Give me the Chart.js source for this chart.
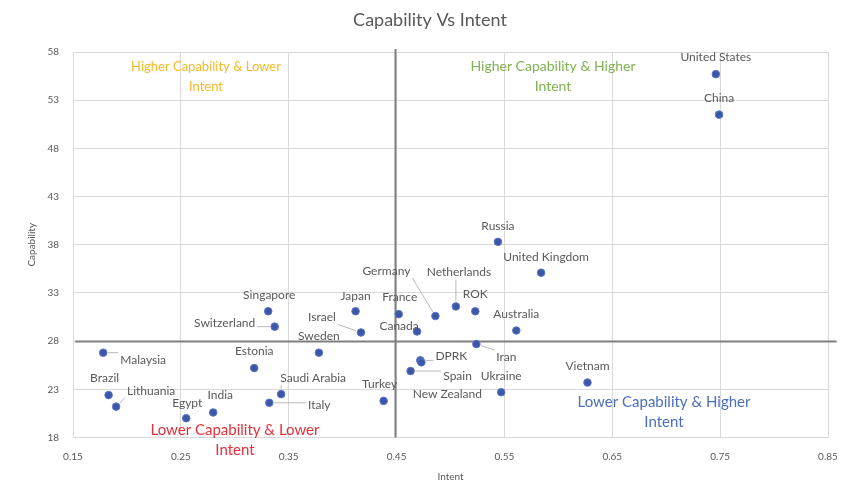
<!DOCTYPE html>
<html>
<head>
<meta charset="utf-8">
<script src="https://cdn.jsdelivr.net/npm/chart.js@4.4.1/dist/chart.umd.min.js"></script>
<style>
  html, body { margin: 0; padding: 0; background: #fff; }
  #wrap { width: 842px; height: 483px; }
</style>
</head>
<body>
<div id="wrap"><canvas id="capChart" width="842" height="483"></canvas></div>
<script>
// Data
const countries = ['United States', 'China', 'Russia', 'United Kingdom', 'Germany', 'Netherlands', 'ROK',
  'Australia', 'France', 'Japan', 'Israel', 'Canada', 'Sweden', 'Singapore', 'Switzerland', 'Iran',
  'DPRK', 'New Zealand', 'Spain', 'Ukraine', 'Vietnam', 'Turkey', 'Malaysia', 'Estonia',
  'Saudi Arabia', 'Italy', 'Brazil', 'Lithuania', 'Egypt', 'India'];
const intent = [0.746, 0.749, 0.544, 0.584, 0.486, 0.505, 0.523,
  0.561, 0.452, 0.412, 0.417, 0.469, 0.378, 0.331, 0.337, 0.524,
  0.472, 0.473, 0.463, 0.547, 0.627, 0.438, 0.178, 0.318,
  0.343, 0.332, 0.183, 0.190, 0.255, 0.280];
const capability = [55.7, 51.5, 38.3, 35.1, 30.6, 31.6, 31.1,
  29.1, 30.8, 31.1, 28.9, 29.0, 26.8, 31.1, 29.5, 27.7,
  26.0, 25.8, 24.9, 22.7, 23.7, 21.8, 26.8, 25.2,
  22.5, 21.6, 22.4, 21.2, 20.0, 20.6];

// Crossing lines (averages)
const avgIntent = 0.449;
const avgCapability = 27.95;

const xTicks = [0.15, 0.25, 0.35, 0.45, 0.55, 0.65, 0.75, 0.85];
const yTicks = [18, 23, 28, 33, 38, 43, 48, 53, 58];

const quadrantText = [
  ['Higher Capability & Lower', 'Intent'],
  ['Higher Capability & Higher', 'Intent'],
  ['Lower Capability & Higher', 'Intent'],
  ['Lower Capability & Lower', 'Intent']
];

// Layout of the labels (pixel offsets from each point), kept apart from the data
const labelDx = [0, 0, 0, 5, -49, 3, 0,
  0, 1, 0, -39, -18, 0, 1, -50, 30,
  31, 26, 47, 0, 0, -4, 40, 0,
  32, 50, -4, 35, 1, 7];
const labelDy = [-17, -17, -16, -16, -45, -34, -17,
  -16, -17, -15, -15, -5, -17, -16, -4, 13,
  -4, 32, 5, -16, -16, -17, 7, -17,
  -16, 2, -17, -16, -15, -17];
const leader = [0, 0, 0, 0, 1, 1, 0,
  0, 0, 0, 1, 0, 0, 0, 1, 1,
  1, 0, 1, 0, 0, 0, 1, 0,
  1, 1, 0, 1, 0, 0];
const quadrantPos = [[206, 67], [553, 66], [664, 402], [235, 430]];
const quadrantSize = [13, 14, 15, 15];
const quadrantColor = ['#F7B924', '#7FB24F', '#4A6FBF', '#E8303A'];

const FONT = 'Lato, "Noto Sans", sans-serif';

const labelPlugin = {
  id: 'pointLabels',
  afterDatasetsDraw(chart) {
    const ctx = chart.ctx;
    const meta = chart.getDatasetMeta(0);
    ctx.save();
    ctx.font = '12px ' + FONT;
    ctx.textAlign = 'center';
    ctx.textBaseline = 'middle';
    meta.data.forEach((pt, i) => {
      const lx = pt.x + labelDx[i];
      const ly = pt.y + labelDy[i];
      if (leader[i]) {
        const w = ctx.measureText(countries[i]).width / 2 + 2;
        const h = 7;
        const ex = Math.max(lx - w, Math.min(pt.x, lx + w));
        const ey = Math.max(ly - h, Math.min(pt.y, ly + h));
        const dx = ex - pt.x, dy = ey - pt.y;
        const d = Math.hypot(dx, dy) || 1;
        ctx.strokeStyle = '#a6a6a6';
        ctx.lineWidth = 0.8;
        ctx.beginPath();
        ctx.moveTo(pt.x + dx / d * 5, pt.y + dy / d * 5);
        ctx.lineTo(ex, ey);
        ctx.stroke();
      }
      ctx.fillStyle = '#595959';
      ctx.fillText(countries[i], lx, ly);
    });
    ctx.restore();
  }
};

const overlayPlugin = {
  id: 'overlayText',
  afterDraw(chart) {
    const ctx = chart.ctx;
    ctx.save();
    ctx.textAlign = 'center';
    ctx.textBaseline = 'middle';
    ctx.fillStyle = '#595959';
    ctx.font = '18px ' + FONT;
    ctx.fillText('Capability Vs Intent', 430, 20);
    quadrantText.forEach((lines, q) => {
      ctx.fillStyle = quadrantColor[q];
      ctx.font = quadrantSize[q] + 'px ' + FONT;
      lines.forEach((t, k) => ctx.fillText(t, quadrantPos[q][0], quadrantPos[q][1] + k * 20));
    });
    ctx.restore();
  }
};

const ctx = document.getElementById('capChart').getContext('2d');
new Chart(ctx, {
  type: 'scatter',
  data: {
    datasets: [
      {
        label: 'Countries',
        data: intent.map((x, i) => ({ x: x, y: capability[i] })),
        backgroundColor: '#3D57A8',
        borderColor: '#5B78C4',
        borderWidth: 1,
        pointRadius: 3.8
      },
      {
        type: 'line',
        label: 'avg intent',
        data: [{ x: avgIntent, y: 18 }, { x: avgIntent, y: 58.3 }],
        borderColor: '#7f7f7f',
        borderWidth: 2,
        pointRadius: 0,
        clip: false
      },
      {
        type: 'line',
        label: 'avg capability',
        data: [{ x: 0.152, y: avgCapability }, { x: 0.858, y: avgCapability }],
        borderColor: '#7f7f7f',
        borderWidth: 2,
        pointRadius: 0,
        clip: false
      }
    ]
  },
  options: {
    responsive: false,
    animation: false,
    layout: { padding: { left: 0, right: 14, top: 52, bottom: 0 } },
    plugins: {
      legend: { display: false },
      title: { display: false },
      tooltip: { enabled: false }
    },
    scales: {
      x: {
        type: 'linear',
        min: 0.15,
        max: 0.85,
        afterBuildTicks(scale) { scale.ticks = xTicks.map(v => ({ value: v })); },
        afterFit(scale) {
          scale.height = 45.5;
          scale.paddingLeft = 0;
          scale.paddingRight = 0;
        },
        grid: { color: '#d9d9d9', drawTicks: false },
        border: { color: '#d9d9d9' },
        ticks: {
          padding: 13,
          color: '#595959',
          font: { family: FONT, size: 10 },
          callback: v => Number(v).toFixed(2)
        },
        title: { display: true, text: 'Intent', color: '#595959', font: { family: FONT, size: 10 }, padding: 0 }
      },
      y: {
        type: 'linear',
        min: 18,
        max: 58,
        afterBuildTicks(scale) { scale.ticks = yTicks.map(v => ({ value: v })); },
        afterFit(scale) {
          scale.width = 73;
          scale.paddingTop = 0;
          scale.paddingBottom = 0;
        },
        grid: { color: '#d9d9d9', drawTicks: false },
        border: { color: '#d9d9d9' },
        ticks: {
          padding: 14,
          color: '#595959',
          font: { family: FONT, size: 10 }
        },
        title: { display: true, text: 'Capability', color: '#595959', font: { family: FONT, size: 10 }, padding: { top: 26, bottom: 0 } }
      }
    }
  },
  plugins: [labelPlugin, overlayPlugin]
});
</script>
</body>
</html>
